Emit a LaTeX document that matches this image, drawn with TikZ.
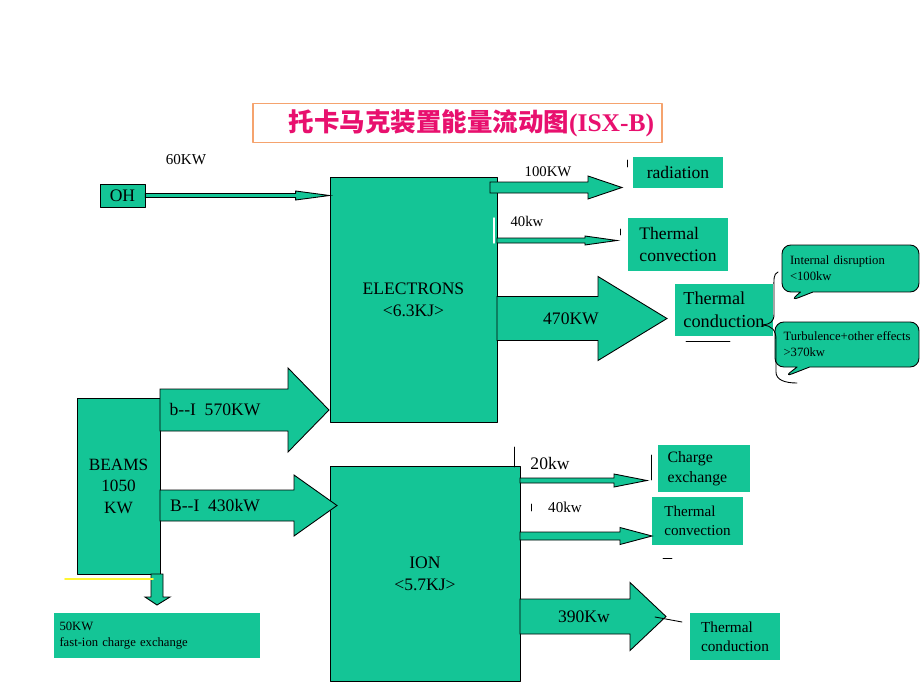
\documentclass[tikz,border=0pt]{standalone}
\usepackage{fontspec}
\setmainfont{Liberation Serif}
\newfontfamily\cjk{Noto Sans CJK SC}
\usetikzlibrary{calc,shapes.callouts}
\definecolor{boxgreen}{HTML}{14C596}
\definecolor{titlered}{HTML}{E8106E}
\definecolor{titleframe}{HTML}{F5A36E}
\tikzset{
	box/.style={draw=black, fill=boxgreen, line width=0.5pt, inner sep=1pt, align=center},
	tag/.style={fill=boxgreen, inner sep=1pt, align=left},
	flow/.style={draw=black, fill=boxgreen, line width=0.5pt, line join=miter},
	lbl/.style={inner sep=0pt},
	hair/.style={line width=0.5pt}
}
\newcommand{\fs}[1]{\fontsize{#1}{1.25\dimexpr#1pt\relax}\selectfont}
\begin{document}
\begin{tikzpicture}[x=0.02cm, y=-0.02cm, line join=round, line cap=round]
	\useasboundingbox (0,0) rectangle (920,690);
	% tail, tip, shaft half-width, head half-width, head length
	\def\flowarrow#1#2#3#4#5{\draw[flow] ($(#1)+(0,#3)$) -- ($(#2)+(-#5,#3)$) -- ($(#2)+(-#5,#4)$) -- (#2)
		-- ($(#2)+(-#5,-#4)$) -- ($(#2)+(-#5,-#3)$) -- ($(#1)+(0,-#3)$) -- cycle;}
	\node[draw=titleframe, line width=0.8pt, minimum width=8.18cm, minimum height=0.64cm, text=titlered, font=\fs{14.5}] (title) at (457.5,123)
		{\hspace{0.56cm}{\cjk\bfseries 托卡马克装置能量流动图}\textbf{(ISX-B)}};
	% sources
	\node[box, minimum width=0.9cm, minimum height=0.46cm, font=\fs{10}] (oh) at (122.5,195.5) {OH};
	\node[box, minimum width=1.66cm, minimum height=3.52cm, font=\fs{9.8}] (beams) at (118.5,486) {BEAMS\\1050\\KW};
	\node[box, minimum width=3.34cm, minimum height=4.9cm, font=\fs{10}] (elec) at (413.5,299.5) {ELECTRONS\\<6.3KJ>};
	\node[box, minimum width=3.8cm, minimum height=4.3cm, font=\fs{10}] (ion) at (425,573.5) {ION\\<5.7KJ>};
	% sinks
	\node[tag, minimum width=1.8cm, minimum height=0.62cm, font=\fs{10}] (rad) at (678,172.5) {radiation};
	\node[tag, minimum width=2cm, minimum height=1.06cm, font=\fs{10}] (conv1) at (678,244.5) {Thermal\\convection};
	\node[tag, minimum width=1.96cm, minimum height=1.04cm, font=\fs{10.4}] (cond1) at (724,310) {Thermal\\conduction};
	\node[tag, minimum width=1.84cm, minimum height=0.94cm, text width=1.46cm, font=\fs{9}] (cx) at (704,468.5) {Charge\\exchange};
	\node[tag, minimum width=1.82cm, minimum height=0.96cm, font=\fs{8.6}] (conv2) at (697.5,521) {Thermal\\convection};
	\node[tag, minimum width=1.8cm, minimum height=0.94cm, font=\fs{8.7}] (cond2) at (735,636.5) {Thermal\\conduction};
	\node[tag, minimum width=4.12cm, minimum height=0.9cm, text width=3.9cm, font=\fs{7.2}] (fast) at (157,635.5) {50KW\\fast-ion charge exchange};
	\node[box, rectangle callout, rounded corners=5pt, callout absolute pointer={(790,301)}, minimum width=2.74cm, minimum height=0.94cm,
		text width=2.42cm, align=left, font=\fs{7.2}] (disr) at (850.5,268.5) {Internal disruption\\<100kw};
	\node[box, rectangle callout, rounded corners=5pt, callout absolute pointer={(784,377)}, minimum width=2.88cm, minimum height=0.9cm,
		align=left, font=\fs{7.2}] (turb) at (847,344.5) {Turbulence+other effects\\>370kw};
	% flows
	\coordinate (ohT) at (oh.east);
	\coordinate (ohH) at (elec.west |- oh.east);
	\coordinate (radT) at (490,187.5);  \coordinate (radH) at (622,187.5);
	\coordinate (cv1T) at (497,240.5);  \coordinate (cv1H) at (617,240.5);
	\coordinate (cd1T) at (497,318.5);  \coordinate (cd1H) at (667,318.5);
	\coordinate (bT) at (160,410);      \coordinate (bH) at (329,410);
	\coordinate (BT) at (160,505.5);    \coordinate (BH) at (337,505.5);
	\coordinate (cxT) at (520,480.5);   \coordinate (cxH) at (647,480.5);
	\coordinate (cv2T) at (520,536);    \coordinate (cv2H) at (652,536);
	\coordinate (cd2T) at (520,616.5);  \coordinate (cd2H) at (666,616.5);
	\flowarrow{ohT}{ohH}{2}{4.5}{34}
	\flowarrow{radT}{radH}{5.5}{11.5}{34}
	\flowarrow{cv1T}{cv1H}{2.5}{4.5}{32}
	\flowarrow{cd1T}{cd1H}{22}{42}{69}
	\flowarrow{bT}{bH}{21}{42}{41}
	\flowarrow{BT}{BH}{15.5}{30.5}{43}
	\flowarrow{cxT}{cxH}{2.5}{6.5}{33}
	\flowarrow{cv2T}{cv2H}{4}{8.5}{32}
	\flowarrow{cd2T}{cd2H}{17.5}{34}{36}
	\draw[flow] (151,574) -- (151,597) -- (145,597) -- (157,605) -- (170,597) -- (163,597) -- (163,574) -- cycle;
	\draw[yellow!80!white, line width=1pt] (65,579) -- (153,579);
	% flow values
	\node[lbl, font=\fs{8.6}] (l60) at (186,160) {60KW};
	\node[lbl, font=\fs{8.4}] (l100) at (548,172) {100KW};
	\node[lbl, font=\fs{8.4}] (l40e) at (527,221) {40kw};
	\node[lbl, font=\fs{10}] (l470) at (571,319) {470KW};
	\node[lbl, font=\fs{10}] (l570) at (215,410) {b-{}-I\ \ 570KW};
	\node[lbl, font=\fs{10}] (l430) at (215,506) {B-{}-I\ \ 430kW};
	\node[lbl, font=\fs{10}] (l20) at (550,463) {20kw};
	\node[lbl, font=\fs{8.6}] (l40i) at (565,507) {40kw};
	\node[lbl, font=\fs{10}] (l390) at (584,617) {390Kw};
	% stray strokes
	\draw[hair] (778,272) .. controls (773,274) and (774,280) .. (774,290) -- (774,314) .. controls (774,322) and (770,324) .. (763,325);
	\draw[hair] (763,325) .. controls (772,326) and (776,330) .. (776,340) -- (776,372) .. controls (776,380) and (785,383) .. (797,383);
	\draw[hair] (686,341) -- (730,341);
	\draw[hair] (655,617) -- (682,622);
	\draw[hair] (663,558) -- (672,558);
	\draw[hair] (627,160) -- (627,167);
	\draw[hair] (620,229) -- (620,235);
	\draw[hair] (514,447) -- (514,467);
	\draw[hair] (651,455) -- (651,480);
	\draw[hair] (531,504) -- (531,511);
	\draw[white, line width=0.8pt] (494,218) -- (494,243);
\end{tikzpicture}
\end{document}
